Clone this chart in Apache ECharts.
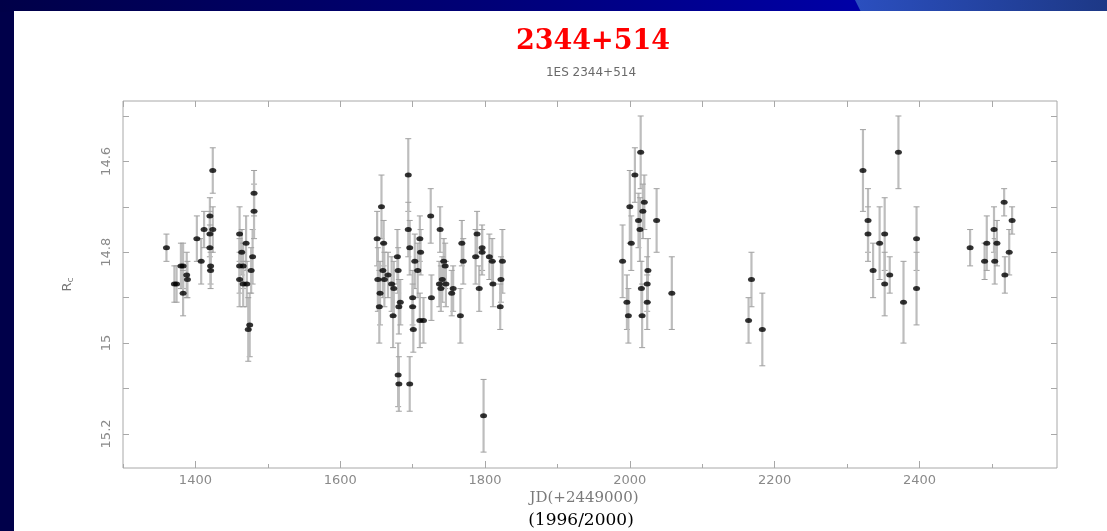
<!DOCTYPE html>
<html>
<head>
<meta charset="utf-8">
<script src="https://cdn.jsdelivr.net/npm/echarts@6/dist/echarts.min.js"></script>
<style>
html,body{margin:0;padding:0;background:#00004a;}
#chart{width:1107px;height:531px;}
</style>
</head>
<body>
<div id="chart"></div>
<script>
// ---- data ----
const titleText = '2344+514';
const subtitleText = '1ES 2344+514';
const xName = 'JD(+2449000)';
const xSubName = '(1996/2000)';
const xTickLabels = [1400, 1600, 1800, 2000, 2200, 2400];
const xMinorTicks = [1300, 1500, 1700, 1900, 2100, 2300, 2500];
const yTickLabels = [14.6, 14.8, 15, 15.2];
const yAllTicks = [14.5, 14.6, 14.7, 14.8, 14.9, 15, 15.1, 15.2];

const jd = [
  1360,1371,1374,1380,1383,1383,1388,1389,1402,1408,1412,1420,1424,1420,1420,1424,1421,1421,
  1461,1464,1461,1466,1461,1470,1466,1471,1479,1477,1481,1481,1475,1473,
  1651,1657,1660,1659,1652,1661,1666,1655,1654,1671,1674,1679,1680,1673,1681,1683,1680,1681,1696,
  1694,1694,1696,1703,1710,1711,1707,1700,1700,1701,1710,1715,1725,1726,
  1738,1743,1745,1741,1737,1746,1739,1756,1754,1766,1768,1770,1789,1787,1792,1796,1796,1806,1810,1811,1824,1822,1821,1798,
  2015,2007,2000,2020,2018,2012,2037,2014,2002,1990,2025,2024,2016,2058,1996,2024,1998,2017,
  2168,2164,2183,
  2322,2371,2329,2329,2336,2345,2352,2352,2359,2378,2396,2396,
  2470,2490,2493,2503,2504,2507,2517,2518,2524,2528
];
const mag = [
  14.79,14.87,14.87,14.83,14.83,14.89,14.85,14.86,14.77,14.82,14.75,14.72,14.75,14.76,14.79,14.62,14.83,14.84,
  14.76,14.80,14.83,14.83,14.86,14.78,14.87,14.87,14.81,14.84,14.71,14.67,14.96,14.97,
  14.77,14.70,14.78,14.84,14.86,14.86,14.85,14.89,14.92,14.87,14.88,14.81,14.84,14.94,14.92,14.91,15.07,15.09,15.09,
  14.63,14.75,14.79,14.82,14.77,14.80,14.84,14.90,14.92,14.97,14.95,14.95,14.72,14.90,
  14.75,14.82,14.83,14.86,14.87,14.87,14.88,14.88,14.89,14.94,14.78,14.82,14.76,14.81,14.88,14.79,14.80,14.81,14.82,14.87,14.82,14.86,14.92,15.16,
  14.58,14.63,14.70,14.69,14.71,14.73,14.73,14.75,14.78,14.82,14.84,14.87,14.88,14.89,14.91,14.91,14.94,14.94,
  14.86,14.95,14.97,
  14.62,14.58,14.73,14.76,14.84,14.78,14.76,14.87,14.85,14.91,14.77,14.88,
  14.79,14.82,14.78,14.75,14.82,14.78,14.69,14.85,14.80,14.73
];
const err = [
  0.03,0.04,0.04,0.05,0.05,0.05,0.05,0.04,0.05,0.05,0.04,0.04,0.05,0.05,0.05,0.05,0.04,0.04,
  0.06,0.05,0.06,0.05,0.06,0.06,0.05,0.05,0.06,0.05,0.06,0.05,0.07,0.07,
  0.06,0.07,0.05,0.06,0.07,0.06,0.05,0.07,0.08,0.06,0.06,0.06,0.05,0.07,0.06,0.05,0.07,0.06,0.06,
  0.08,0.06,0.06,0.06,0.05,0.05,0.06,0.06,0.05,0.05,0.06,0.05,0.06,0.05,
  0.05,0.05,0.05,0.05,0.05,0.05,0.05,0.05,0.05,0.06,0.05,0.05,0.05,0.06,0.05,0.05,0.05,0.05,0.05,0.05,0.07,0.05,0.05,0.08,
  0.08,0.06,0.08,0.06,0.06,0.06,0.07,0.07,0.06,0.08,0.07,0.06,0.06,0.08,0.06,0.06,0.06,0.07,
  0.06,0.05,0.08,
  0.09,0.08,0.07,0.06,0.06,0.08,0.08,0.07,0.04,0.09,0.07,0.08,
  0.04,0.04,0.06,0.05,0.05,0.05,0.03,0.04,0.05,0.03
];

// ---- chart ----
const chart = echarts.init(document.getElementById('chart'));
const points = jd.map((x, i) => [x, mag[i]]);
const bars = jd.map((x, i) => [x, mag[i] - err[i], mag[i] + err[i]]);

const frameColor = '#a8a8a8';
const labelColor = '#8a8a8a';
const X_MIN = 1300, X_MAX = 2590, Y_MIN = 14.467, Y_MAX = 15.275;

function xAxisCfg(extra) {
  return Object.assign({
    type: 'value', min: X_MIN, max: X_MAX, gridIndex: 0,
    axisLine: { show: false }, splitLine: { show: false },
    axisLabel: { show: false },
    axisTick: { show: true, inside: true, length: 4, lineStyle: { color: frameColor } }
  }, extra);
}
function yAxisCfg(extra) {
  return Object.assign({
    type: 'value', min: Y_MIN, max: Y_MAX, inverse: true, gridIndex: 0,
    axisLine: { show: false }, splitLine: { show: false },
    axisLabel: { show: false },
    axisTick: { show: true, inside: true, length: 6, lineStyle: { color: frameColor },
      customValues: yAllTicks }
  }, extra);
}

const option = {
  backgroundColor: '#00004a',
  animation: false,
  graphic: [
    { type: 'rect', z: -100, shape: { x: 0, y: 0, width: 1107, height: 12 },
      style: { fill: new echarts.graphic.LinearGradient(0, 0, 1, 0, [
        { offset: 0, color: '#000048' }, { offset: 0.45, color: '#000078' }, { offset: 0.77, color: '#0000a6' }, { offset: 1, color: '#0000a6' }]) } },
    { type: 'polygon', z: -99, shape: { points: [[855, 0], [1107, 0], [1107, 12], [861, 12]] },
      style: { fill: new echarts.graphic.LinearGradient(0, 0, 1, 0, [
        { offset: 0, color: '#2b4fbf' }, { offset: 1, color: '#1d3886' }]) } },
    { type: 'rect', z: -98, shape: { x: 14, y: 11, width: 1093, height: 520 }, style: { fill: '#ffffff' } },
    { type: 'text', z: 10, x: 593, y: 42,
      style: { text: titleText, textAlign: 'center', textVerticalAlign: 'middle',
        font: 'bold 27px "DejaVu Serif"', fill: '#ff0000' } },
    { type: 'text', z: 10, x: 591, y: 73,
      style: { text: subtitleText, textAlign: 'center', textVerticalAlign: 'middle',
        font: '12px "DejaVu Sans"', fill: '#6a6a6a' } },
    { type: 'text', z: 10, x: 584, y: 498,
      style: { text: xName, textAlign: 'center', textVerticalAlign: 'middle',
        font: '15px "DejaVu Serif"', fill: '#7a7a7a' } },
    { type: 'text', z: 10, x: 581, y: 521,
      style: { text: xSubName, textAlign: 'center', textVerticalAlign: 'middle',
        font: '17px "DejaVu Serif"', fill: '#000000' } }
  ],
  grid: {
    left: 123, right: 50, top: 101, bottom: 63,
    show: true, borderColor: frameColor, borderWidth: 1, backgroundColor: 'transparent'
  },
  xAxis: [
    xAxisCfg({ position: 'bottom',
      axisLabel: { show: true, customValues: xTickLabels, color: labelColor, fontSize: 13,
        fontFamily: 'DejaVu Sans', margin: 6, formatter: function (v) { return String(v); } },
      axisTick: { show: true, inside: true, length: 7, lineStyle: { color: frameColor }, customValues: xTickLabels } }),
    xAxisCfg({ position: 'bottom',
      axisTick: { show: true, inside: true, length: 4, lineStyle: { color: frameColor }, customValues: xMinorTicks } }),
    xAxisCfg({ position: 'top',
      axisTick: { show: true, inside: true, length: 6, lineStyle: { color: frameColor }, customValues: xTickLabels.concat(xMinorTicks) } })
  ],
  yAxis: [
    yAxisCfg({ position: 'left',
      name: '{r|R}{c|c}', nameLocation: 'middle', nameRotate: 90, nameGap: 48,
      nameTextStyle: { rich: {
        r: { fontSize: 13, color: '#777', fontFamily: 'DejaVu Sans' },
        c: { fontSize: 9, color: '#777', fontFamily: 'DejaVu Sans', verticalAlign: 'bottom', padding: [6, 0, 0, 0] } } },
      axisLabel: { show: true, customValues: yTickLabels, rotate: 90, color: labelColor, fontSize: 13,
        fontFamily: 'DejaVu Sans', margin: 10, formatter: function (v) { return String(v); } } }),
    yAxisCfg({ position: 'right' })
  ],
  series: [
    {
      type: 'custom', xAxisIndex: 0, yAxisIndex: 0, z: 2, silent: true,
      data: bars,
      renderItem: function (params, api) {
        const x = api.value(0);
        const p1 = api.coord([x, api.value(1)]);
        const p2 = api.coord([x, api.value(2)]);
        const w = 3;
        return {
          type: 'group',
          children: [
            { type: 'line', shape: { x1: p1[0], y1: p1[1], x2: p2[0], y2: p2[1] },
              style: { stroke: '#bdbdbd', lineWidth: 2.2 } },
            { type: 'line', shape: { x1: p1[0] - w, y1: p1[1], x2: p1[0] + w, y2: p1[1] },
              style: { stroke: '#a0a0a0', lineWidth: 1 } },
            { type: 'line', shape: { x1: p2[0] - w, y1: p2[1], x2: p2[0] + w, y2: p2[1] },
              style: { stroke: '#a0a0a0', lineWidth: 1 } }
          ]
        };
      }
    },
    {
      type: 'scatter', xAxisIndex: 0, yAxisIndex: 0, z: 3, silent: true,
      symbol: 'circle', symbolSize: [7, 5],
      itemStyle: { color: '#000000' },
      data: points
    }
  ]
};
chart.setOption(option);
</script>
</body>
</html>
